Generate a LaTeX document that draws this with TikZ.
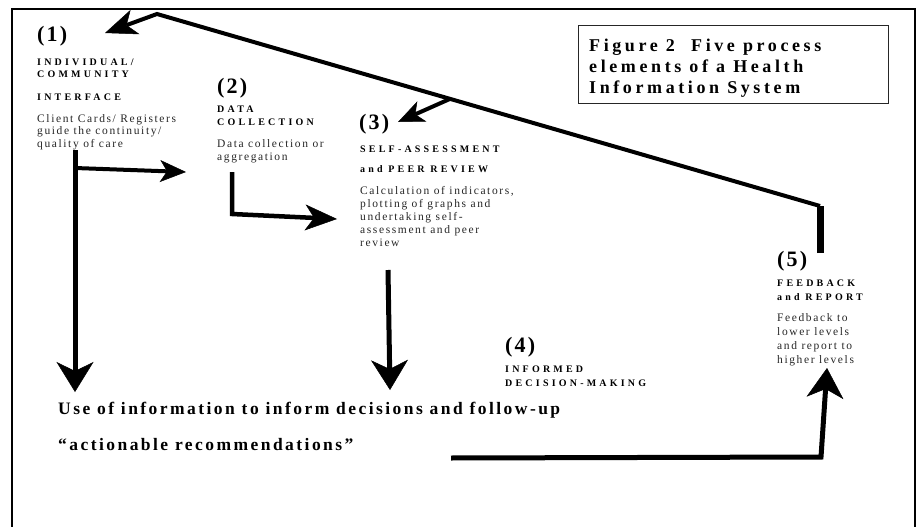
\documentclass[tikz,border=0pt]{standalone}
\usepackage{fontspec}
\setmainfont{Liberation Serif}
\newfontfamily\numfont[LetterSpace=10]{Liberation Serif}
\newfontfamily\capsfont[LetterSpace=32]{Liberation Serif}
\newfontfamily\bodyfont[LetterSpace=14]{Liberation Serif}
\newfontfamily\titlefont[LetterSpace=20]{Liberation Serif}
\newfontfamily\infofont[LetterSpace=14]{Liberation Serif}
\usetikzlibrary{arrows.meta,calc}

% every text block is placed at the baseline of its last line
\tikzset{
  txt/.style={anchor=base west, inner sep=0pt, align=left},
  stepnum/.style={txt, font=\numfont\bfseries\fontsize{22}{24}\selectfont},
  stephead/.style={txt, font=\capsfont\bfseries\fontsize{10}{#1}\selectfont},
  stepbody/.style={txt, text=black!85, font=\bodyfont\fontsize{11.5}{#1}\selectfont},
  usetext/.style={txt, font=\infofont\bfseries\fontsize{17.5}{20}\selectfont},
  flow/.style={line width=#1, line cap=butt, line join=miter},
  headL/.style={-{Stealth[length=30pt,width=37pt,inset=9pt,line width=0.5pt]}},
  headM/.style={-{Stealth[length=32pt,width=26pt,inset=9pt,line width=0.5pt]}},
  headS/.style={-{Stealth[length=26pt,width=22pt,inset=7pt,line width=0.5pt]}},
}

\begin{document}
\begin{tikzpicture}[x=1pt,y=-1pt]
\useasboundingbox (0,0) rectangle (916,527);

% outer frame, open at the bottom
\draw[line width=1.7pt] (12,530) -- (12,9) -- (915,9) -- (915,530);

% caption box
\node[txt, font=\titlefont\bfseries\fontsize{18}{21.5}\selectfont] (title) at (589,94)
  {Figure 2\ \ Five process\\elements of a Health\\Information System};
\draw[line width=1pt, black!85] (578,26) rectangle (888,103);

% (1) individual / community interface
\node[stepnum] (num1) at (37,42) {(1)};
\node[stephead=12] (head1) at (37,100.5) {INDIVIDUAL/\\COMMUNITY\\[11pt]INTERFACE};
\node[stepbody=12.5] (body1) at (37,147) {Client Cards/ Registers\\guide the continuity/\\quality of care};

% (2) data collection
\node[stepnum] (num2) at (217,93) {(2)};
\node[stephead=13] (head2) at (217,125.5) {DATA\\COLLECTION};
\node[stepbody=13] (body2) at (217,160.5) {Data collection or\\aggregation};

% (3) self-assessment and peer review
\node[stepnum] (num3) at (359,129) {(3)};
\node[stephead=20] (head3) at (360,172.5) {SELF-ASSESSMENT\\and PEER REVIEW};
\node[stepbody=13] (body3) at (360,246.5) {Calculation of indicators,\\plotting of graphs and\\undertaking self-\\assessment and peer\\review};

% (4) informed decision-making
\node[stepnum] (num4) at (505,352) {(4)};
\node[stephead=14] (head4) at (505,386.5) {INFORMED\\DECISION-MAKING};

% (5) feedback and report
\node[stepnum] (num5) at (777,266) {(5)};
\node[stephead=14] (head5) at (777,300.5) {FEEDBACK\\and REPORT};
\node[stepbody=14] (body5) at (777,363) {Feedback to\\lower levels\\and report to\\higher levels};

% use of information
\node[usetext] (use1) at (58,414) {Use of information to inform decisions and follow-up};
\node[usetext] (use2) at (58,450) {“actionable recommendations”};

% connector points
\coordinate (fbBot) at (820,253);
\coordinate (fbTop) at (820,206);
\coordinate (apex) at (157,14);
\coordinate (to1) at (105,33);
\coordinate (branch) at ($(fbTop)!0.558!(apex)$);
\coordinate (to3) at (398,122);
\coordinate (d1top) at (75,150);
\coordinate (d1tip) at (75,392);
\coordinate (r1start) at (75,168);
\coordinate (r1tip) at (186,172);
\coordinate (d2top) at (232,172);
\coordinate (d2bend) at (232,214);
\coordinate (r2tip) at (337,219);
\coordinate (d3top) at (388,270);
\coordinate (d3tip) at (390,390);
\coordinate (fwStart) at (451,458);
\coordinate (fwBend) at (821,457);
\coordinate (to5) at (827,368);

% feedback loop back to (1) and (3)
\draw[flow=7pt] (fbBot) -- (fbTop);
\draw[flow=4pt, headM] (fbTop) -- (apex) -- (to1);
\draw[flow=4pt, headS] (branch) -- (to3);

% (1) -> (2) and (1) -> use of information
\draw[flow=5pt, headL] (d1top) -- (d1tip);
\draw[flow=4pt, headS] (r1start) -- (r1tip);

% (2) -> (3)
\draw[flow=4.5pt, headM] (d2top) -- (d2bend) -- (r2tip);

% (3) -> use of information
\draw[flow=5pt, headL] (d3top) -- (d3tip);

% use of information -> (5)
\draw[flow=5pt, headL] (fwStart) -- (fwBend) -- (to5);
\end{tikzpicture}
\end{document}
